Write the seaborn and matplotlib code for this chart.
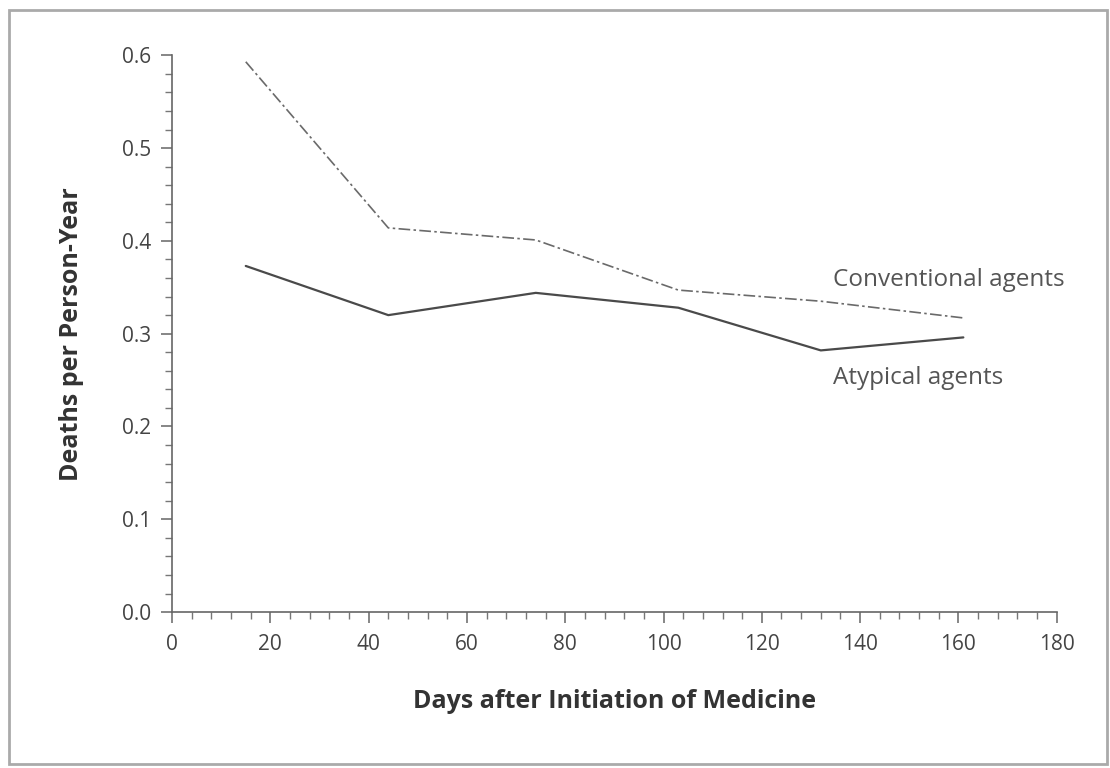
import matplotlib
matplotlib.use("Agg")
import matplotlib.pyplot as plt
import seaborn as sns
import pandas as pd
from matplotlib.ticker import MultipleLocator
from matplotlib.patches import Rectangle

days = [15, 44, 74, 103, 132, 161]
conventional = [0.593, 0.414, 0.401, 0.347, 0.335, 0.317]
atypical = [0.373, 0.320, 0.344, 0.328, 0.282, 0.296]
series_names = ["Conventional agents", "Atypical agents"]

df = pd.DataFrame({
    "day": days * 2,
    "rate": conventional + atypical,
    "group": [series_names[0]] * len(days) + [series_names[1]] * len(days),
})

sns.set_theme(style="white")
plt.rcParams['font.family'] = ['Open Sans', 'DejaVu Sans']

fig = plt.figure(figsize=(11.1, 7.68), dpi=100)
ax = fig.add_axes([0.155, 0.203, 0.797, 0.725])

sns.lineplot(data=df, x="day", y="rate", hue="group", style="group",
             palette={series_names[0]: "#6a6a6a", series_names[1]: "#4a4a4a"},
             dashes={series_names[0]: (7, 2, 1.5, 2), series_names[1]: ""},
             size="group", sizes={series_names[0]: 1.2, series_names[1]: 1.6},
             legend=False, ax=ax)

ax.set_xlim(0, 180)
ax.set_ylim(0, 0.6)
ax.xaxis.set_major_locator(MultipleLocator(20))
ax.xaxis.set_minor_locator(MultipleLocator(4))
ax.yaxis.set_major_locator(MultipleLocator(0.1))
ax.yaxis.set_minor_locator(MultipleLocator(0.02))
ax.yaxis.set_major_formatter(matplotlib.ticker.FormatStrFormatter('%.1f'))

for side in ["top", "right"]:
    ax.spines[side].set_visible(False)
for side in ["left", "bottom"]:
    ax.spines[side].set_color("#666666")
    ax.spines[side].set_linewidth(1.2)

ax.tick_params(axis="both", which="major", direction="out", length=8, width=1.1,
               color="#666666", labelsize=15, labelcolor="#444444",
               bottom=True, left=True)
ax.tick_params(axis="x", which="major", pad=8)
ax.tick_params(axis="y", which="major", pad=7)
ax.tick_params(axis="both", which="minor", direction="out", length=5, width=1.0,
               color="#777777", bottom=True, left=True)

ax.set_xlabel("Days after Initiation of Medicine", fontsize=18, fontweight="bold",
              color="#333333", labelpad=24)
ax.set_ylabel("Deaths per Person-Year", fontsize=18, fontweight="bold",
              color="#333333", labelpad=27)

ax.text(134.5, 0.358, series_names[0], fontsize=17.5, color="#555555", va="center", ha="left")
ax.text(134.5, 0.252, series_names[1], fontsize=17.5, color="#555555", va="center", ha="left")

fig.patches.append(Rectangle((0.008, 0.005), 0.989, 0.982, transform=fig.transFigure,
                             fill=False, edgecolor="#aaaaaa", linewidth=2))

fig.savefig("out.png", dpi=100)
